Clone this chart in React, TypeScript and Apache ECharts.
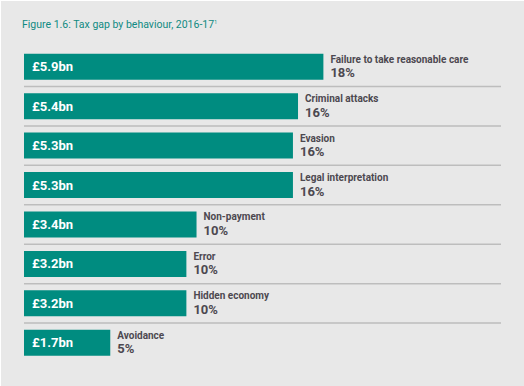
import React, { useEffect, useRef } from "react";
import * as echarts from "echarts";

const categories = [
  "Failure to take reasonable care",
  "Criminal attacks",
  "Evasion",
  "Legal interpretation",
  "Non-payment",
  "Error",
  "Hidden economy",
  "Avoidance",
];
const values = [5.9, 5.4, 5.3, 5.3, 3.4, 3.2, 3.2, 1.7];
const shares = [18, 16, 16, 16, 10, 10, 10, 5];
const titleText = "Figure 1.6: Tax gap by behaviour, 2016-17";
const titleNote = "1";

const TEAL = "#008c80";
const TITLE = "#0f8a82";
const TEXT = "#4d4850";
const FONT = "Roboto, 'Liberation Sans', sans-serif";

export default function App() {
  const ref = useRef<HTMLDivElement>(null);
  useEffect(() => {
    if (!ref.current) return;
    const chart = echarts.init(ref.current, null, { renderer: "svg" });
    chart.setOption({
      animation: false,
      backgroundColor: "#e8e8e8",
      graphic: [
        {
          type: "text",
          left: 21,
          top: 18,
          style: {
            text: `{t|${titleText}}{s|${titleNote}}`,
            rich: {
              t: { fontFamily: FONT, fontSize: 10.5, fill: TITLE },
              s: { fontFamily: FONT, fontSize: 5, fill: TITLE, verticalAlign: "top" },
            },
          },
        },
      ],
      grid: { left: 23, right: 23, top: 46, bottom: 23.5, containLabel: false },
      xAxis: {
        type: "value",
        min: 0,
        max: 9.4,
        show: false,
      },
      yAxis: {
        type: "category",
        data: categories,
        inverse: true,
        show: false,
      },
      series: [
        {
          type: "custom",
          silent: true,
          data: categories.slice(0, categories.length - 1).map((_, i) => [0, i]),
          encode: { x: 0, y: 1 },
          renderItem: (params: any, api: any) => {
            const i = api.value(1);
            const c = api.coord([0, i]);
            const band = api.size([0, 1])[1];
            const y = c[1] + band / 2;
            const cs = params.coordSys;
            return {
              type: "line",
              shape: { x1: cs.x, y1: y, x2: cs.x + cs.width, y2: y },
              style: { stroke: "#bdbdbd", lineWidth: 1.5 },
            };
          },
          z: 1,
        },
        {
          type: "bar",
          data: values,
          barWidth: 26,
          barGap: "-100%",
          itemStyle: { color: TEAL },
          label: {
            show: true,
            position: "insideLeft",
            distance: 8,
            formatter: (p: any) => `£${p.value.toFixed(1)}bn`,
            color: "#ffffff",
            fontFamily: FONT,
            fontWeight: "bold",
            fontSize: 13,
          },
          z: 2,
        },
        {
          type: "bar",
          data: values,
          barWidth: 26,
          barGap: "-100%",
          itemStyle: { color: "rgba(0,0,0,0)" },
          label: {
            show: true,
            position: "right",
            distance: 7,
            formatter: (p: any) =>
              `{n|${categories[p.dataIndex]}}\n{p|${shares[p.dataIndex]}%}`,
            rich: {
              n: {
                fontFamily: FONT,
                fontWeight: "bold",
                fontSize: 10,
                color: TEXT,
                lineHeight: 12,
              },
              p: {
                fontFamily: FONT,
                fontWeight: "bold",
                fontSize: 13,
                color: TEXT,
                lineHeight: 15,
              },
            },
          },
          z: 3,
        },
      ],
    });
    return () => chart.dispose();
  }, []);
  return (
    <div
      style={{
        position: "fixed",
        left: 0,
        top: 0,
        width: 524,
        height: 386,
        background: "#ffffff",
      }}
    >
      <div
        ref={ref}
        style={{ position: "absolute", left: 1, top: 1, width: 523, height: 385 }}
      />
    </div>
  );
}
